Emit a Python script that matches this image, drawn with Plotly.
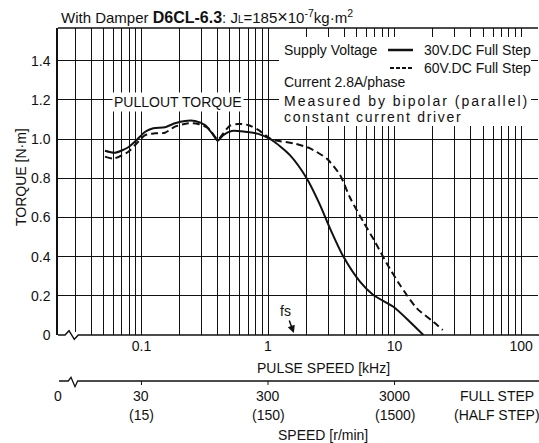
import numpy as np
import plotly.graph_objects as go

# ---------------- data ----------------
speed_30v = [0.0515, 0.0618, 0.0788, 0.0918, 0.107, 0.124, 0.1535, 0.184, 0.221, 0.265,
             0.318, 0.370, 0.401, 0.443, 0.517, 0.658, 0.838, 1.07, 1.49, 2.02, 2.58,
             3.09, 3.94, 5.33, 6.79, 9.78, 13.2, 16.9]
torque_30v = [0.940, 0.930, 0.958, 0.995, 1.037, 1.055, 1.060, 1.080, 1.092, 1.092,
              1.071, 1.020, 0.991, 1.020, 1.041, 1.037, 1.026, 0.995, 0.918, 0.800, 0.663,
              0.544, 0.400, 0.272, 0.204, 0.144, 0.068, 0.0]

speed_60v = [0.0515, 0.0600, 0.0788, 0.0918, 0.107, 0.128, 0.1535, 0.184, 0.2345, 0.281,
             0.338, 0.401, 0.443, 0.501, 0.582, 0.698, 0.838, 1.07, 1.585, 2.15, 2.91,
             3.71, 4.45, 5.66, 7.00, 8.66, 11.04, 15.0, 20.2, 24.0]
torque_60v = [0.910, 0.900, 0.935, 0.978, 1.020, 1.029, 1.032, 1.063, 1.080, 1.077,
              1.055, 0.998, 1.029, 1.068, 1.077, 1.071, 1.046, 0.998, 0.978, 0.952, 0.900,
              0.816, 0.700, 0.578, 0.476, 0.366, 0.255, 0.136, 0.068, 0.026]

x_major_vals = [0.1, 1, 10, 100]
x_major_text = ["0.1", "1", "10", "100"]
x_minor_vals = [m * 10.0 ** e for e in (-2, -1, 0, 1) for m in range(2, 10)]
x_minor_vals = [v for v in x_minor_vals if v >= 0.03]
y_tick_vals = [0, 0.2, 0.4, 0.6, 0.8, 1.0, 1.2, 1.4]
y_tick_text = ["0", "0.2", "0.4", "0.6", "0.8", "1.0", "1.2", "1.4"]

rpm_at_khz = [0.1, 1, 10]
rpm_full = ["30", "300", "3000"]
rpm_half = ["(15)", "(150)", "(1500)"]
fs_khz = 1.6

# ---------------- layout helpers ----------------
W, H = 539, 443
L, R, T, B = 58, 538, 28, 335   # plot area in pixels


def px(x):
    return (x - L) / (R - L)


def py(y):
    return (B - y) / (B - T)


FONT = "Liberation Sans, Arial, Helvetica, sans-serif"
BLACK = "#111111"

fig = go.Figure()
fig.add_trace(go.Scatter(x=speed_30v, y=torque_30v, mode="lines",
                         line=dict(color=BLACK, width=2, shape="spline", smoothing=0.7),
                         showlegend=False, hoverinfo="skip"))
fig.add_trace(go.Scatter(x=speed_60v, y=torque_60v, mode="lines",
                         line=dict(color=BLACK, width=2, dash="7px,4px", shape="spline", smoothing=0.7),
                         showlegend=False, hoverinfo="skip"))

fig.update_layout(
    width=W, height=H,
    margin=dict(l=L, r=W - R, t=T, b=H - B),
    paper_bgcolor="white", plot_bgcolor="white",
    font=dict(family=FONT, size=14, color=BLACK),
    xaxis=dict(type="log", range=[(L - 268) / 126.56, (R - 268) / 126.56],
               tickvals=x_major_vals, ticktext=x_major_text, showgrid=True,
               gridcolor=BLACK, gridwidth=1.4, showline=False, zeroline=False,
               minor=dict(tickvals=x_minor_vals, showgrid=True, gridcolor=BLACK, gridwidth=1.4, ticks=""),
               ticks="", tickfont=dict(size=14), ticklabelstandoff=1),
    yaxis=dict(range=[0, (B - T) / 196.0], tickvals=y_tick_vals, ticktext=y_tick_text,
               showgrid=True, gridcolor=BLACK, gridwidth=1.4, zeroline=False,
               showline=True, linecolor=BLACK, linewidth=1.5, ticks="",
               tickfont=dict(size=14), ticklabelstandoff=3),
)

shapes = []
# top frame line
shapes.append(dict(type="line", xref="paper", yref="paper", x0=0, x1=1, y0=1, y1=1,
                   line=dict(color=BLACK, width=1.5), layer="above"))
# white box behind the legend text
shapes.append(dict(type="rect", xref="paper", yref="paper", x0=px(279), x1=px(531),
                   y0=py(126), y1=py(37), fillcolor="white", line=dict(width=0), layer="above"))
# white gap for break in the zero line
shapes.append(dict(type="rect", xref="paper", yref="paper", x0=px(60), x1=px(79),
                   y0=py(337), y1=py(332), fillcolor="white", line=dict(width=0), layer="above"))
# zero line with break mark
zig = [(L, B), (65, B), (69, 330.7), (74.3, 339.3), (78.3, B), (R + 1, B)]
path = "M " + " L ".join(f"{px(a):.5f},{py(b):.5f}" for a, b in zig)
shapes.append(dict(type="path", xref="paper", yref="paper", path=path,
                   line=dict(color=BLACK, width=1.5), layer="above"))
# secondary speed axis line with break mark
zig2 = [(59, 381), (68.3, 381), (71, 377.3), (75, 386.7), (77.7, 381), (W, 381)]
path2 = "M " + " L ".join(f"{px(a):.5f},{py(b):.5f}" for a, b in zig2)
shapes.append(dict(type="path", xref="paper", yref="paper", path=path2,
                   line=dict(color=BLACK, width=1.3), layer="above"))
# ticks on secondary axis
for v in rpm_at_khz:
    shapes.append(dict(type="line", xref="x", yref="paper", x0=v, x1=v,
                       y0=py(381), y1=py(385), line=dict(color=BLACK, width=1)))
# legend samples
shapes.append(dict(type="line", xref="paper", yref="paper", x0=px(388), x1=px(413),
                   y0=py(50), y1=py(50), line=dict(color=BLACK, width=2.5), layer="above"))
shapes.append(dict(type="line", xref="paper", yref="paper", x0=px(390), x1=px(413),
                   y0=py(68), y1=py(68), line=dict(color=BLACK, width=2, dash="4px,2px"), layer="above"))
fig.update_layout(shapes=shapes)

ann = []


def text(x, y, s, xanchor="left", size=14, **kw):
    ann.append(dict(xref="paper", yref="paper", x=px(x), y=py(y), text=s, showarrow=False,
                    xanchor=xanchor, yanchor="middle", font=dict(size=size, family=FONT, color=BLACK), **kw))


text(59, 17, "With Damper <span style='font-weight:bold;font-size:16px'>D6CL-6.3</span>: J<span style='font-size:10px'>L</span>=185<span style='font-size:18px'>×</span>10<sup>-7</sup>kg·m<sup>2</sup>", size=15)
text(178, 102, "PULLOUT TORQUE", xanchor="center", bgcolor="white", borderpad=1)
text(282, 50, "Supply Voltage")
text(422, 50, "30V.DC Full Step")
text(422, 68, "60V.DC Full Step")
text(282, 82, "Current 2.8A/phase")
text(282, 101, "<span style='letter-spacing:2px'>Measured by bipolar (parallel)</span>")
text(282, 117, "<span style='letter-spacing:1.7px'>constant current driver</span>")
text(323, 368, "PULSE SPEED [kHz]", xanchor="center")
text(323, 435, "SPEED [r/min]", xanchor="center")
text(58, 396, "0", xanchor="center")
text(497, 396, "FULL STEP", xanchor="center")
text(497, 415, "(HALF STEP)", xanchor="center")
for v, a, b in zip(rpm_at_khz, rpm_full, rpm_half):
    ann.append(dict(xref="x", yref="paper", x=np.log10(v), y=py(396), text=a, showarrow=False,
                    xanchor="center", yanchor="middle", font=dict(size=14, family=FONT, color=BLACK)))
    ann.append(dict(xref="x", yref="paper", x=np.log10(v), y=py(415), text=b, showarrow=False,
                    xanchor="center", yanchor="middle", font=dict(size=14, family=FONT, color=BLACK)))
# y axis title
ann.append(dict(xref="paper", yref="paper", x=px(21), y=py(177), text="TORQUE [N·m]", textangle=-90,
                showarrow=False, xanchor="center", yanchor="middle", font=dict(size=14, family=FONT, color=BLACK)))
# fs marker
ann.append(dict(xref="x", yref="y", x=np.log10(fs_khz), y=0.01, text="fs", showarrow=True,
                arrowhead=2, arrowsize=1, arrowwidth=1.5, arrowcolor=BLACK, ax=-8, ay=-22,
                font=dict(size=14, family=FONT, color=BLACK)))
fig.update_layout(annotations=ann)

fig.write_html("out.html", config={"displayModeBar": False},
               post_script="document.body.style.margin='0';")
